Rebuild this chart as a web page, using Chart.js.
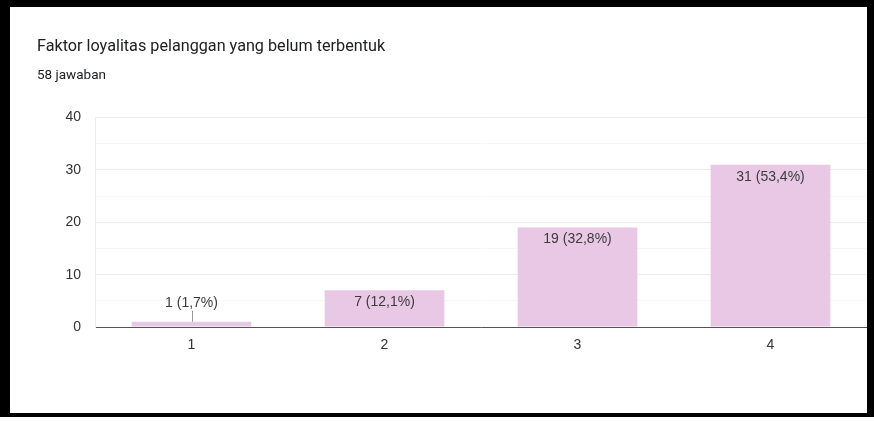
<!DOCTYPE html>
<html>
<head>
<meta charset="utf-8">
<script src="https://cdn.jsdelivr.net/npm/chart.js@4"></script>
<style>
  html, body { margin: 0; padding: 0; background: #fff; }
  #frame { position: absolute; left: 0; top: 0; width: 874px; height: 417px; background: #000; }
  #card { position: absolute; left: 10px; top: 7px; width: 857px; height: 406px; background: #fff; }
</style>
</head>
<body>
<div id="frame"><div id="card"><canvas id="myChart" width="857" height="406"></canvas></div></div>
<script>
// data
const categories = ['1', '2', '3', '4'];
const counts = [1, 7, 19, 31];
const percents = ['1,7', '12,1', '32,8', '53,4'];
const yTicks = [0, 10, 20, 30, 40];

const FONT = '"Liberation Sans", Arial, sans-serif';

const barLabels = {
  id: 'barLabels',
  afterDatasetsDraw(chart) {
    const ctx = chart.ctx;
    const meta = chart.getDatasetMeta(0);
    ctx.save();
    ctx.font = '14px ' + FONT;
    ctx.fillStyle = '#3c3c3c';
    ctx.textAlign = 'center';
    ctx.textBaseline = 'middle';
    meta.data.forEach((bar, i) => {
      const text = counts[i] + ' (' + percents[i] + '%)';
      const h = bar.base - bar.y;
      if (h > 24) {
        ctx.fillText(text, bar.x, bar.y + 12);
      } else {
        // short bar: label above with a small leader line
        ctx.strokeStyle = '#999';
        ctx.lineWidth = 1;
        ctx.beginPath();
        ctx.moveTo(Math.round(bar.x) + 0.5, bar.y);
        ctx.lineTo(Math.round(bar.x) + 0.5, bar.y - 11);
        ctx.stroke();
        ctx.fillText(text, bar.x, bar.y - 19);
      }
    });
    ctx.restore();
  }
};

const myChart = new Chart(document.getElementById('myChart'), {
  type: 'bar',
  data: {
    labels: categories,
    datasets: [{
      data: counts,
      backgroundColor: 'rgb(232, 200, 228)',
      categoryPercentage: 0.62,
      barPercentage: 1
    }]
  },
  options: {
    responsive: false,
    animation: false,
    layout: { padding: { left: 27, right: 0, top: 0, bottom: 0 } },
    plugins: {
      legend: { display: false },
      tooltip: { enabled: false },
      title: {
        display: true,
        align: 'start',
        text: 'Faktor loyalitas pelanggan yang belum terbentuk',
        color: '#202124',
        font: { size: 16.2, family: 'Roboto', weight: 'normal' },
        padding: { top: 30, bottom: 11 }
      },
      subtitle: {
        display: true,
        align: 'start',
        text: '58 jawaban',
        color: '#202124',
        font: { size: 13.5, family: 'Roboto' },
        padding: { top: 0, bottom: 34 }
      }
    },
    scales: {
      x: {
        grid: { display: false, drawTicks: false },
        border: { color: '#555', width: 1 },
        ticks: { color: '#333', padding: 10, font: { size: 14, family: FONT } },
        afterFit(scale) { scale.height = 86; }
      },
      y: {
        min: 0,
        max: 40,
        ticks: {
          stepSize: 5,
          padding: 14,
          color: '#333',
          font: { size: 14, family: FONT },
          callback: (v) => (yTicks.includes(v) ? v : '')
        },
        grid: {
          drawTicks: false,
          color: (c) => (c.tick && c.tick.value % 10 === 0 ? '#ebebeb' : '#f6f6f6')
        },
        border: { color: '#eeeeee' },
        afterFit(scale) { scale.width = 58; }
      }
    }
  },
  plugins: [barLabels]
});
</script>
</body>
</html>
